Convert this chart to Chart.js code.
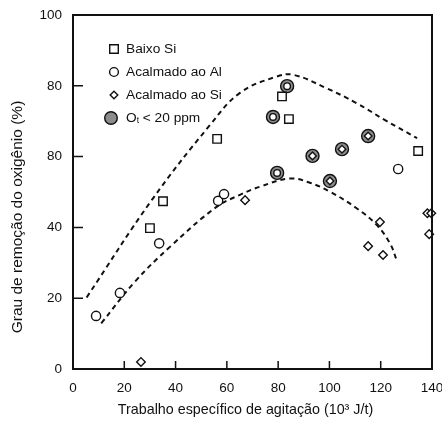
<!DOCTYPE html>
<html>
<head>
<meta charset="utf-8">
<script src="https://cdn.jsdelivr.net/npm/chart.js@4.4.1/dist/chart.umd.min.js"></script>
<style>
  html, body { margin: 0; padding: 0; background: #fff; }
  #wrap { width: 442px; height: 421px; }
</style>
</head>
<body>
<div id="wrap"><canvas id="chart" width="442" height="421"></canvas></div>
<script>
// values: [x (10^3 J/t), y (%)]
const baixoSi = [[30.0, 39.8], [35.1, 47.4], [56.2, 65.0], [81.5, 77.0], [84.2, 70.6], [134.6, 61.6]];
const acalmadoAl = [[9.0, 15.0], [18.3, 21.5], [33.6, 35.5], [56.6, 47.5], [58.9, 49.4], [126.8, 56.5]];
const acalmadoSi = [[26.5, 2.0], [67.1, 47.7], [115.1, 34.7], [119.7, 41.5], [120.9, 32.2],
  [138.2, 44.0], [139.7, 44.0], [138.9, 38.1]];
// heats with O_t < 20 ppm (the inner marker tells Al or Si killed)
const otAl = [[78.0, 71.2], [79.6, 55.4], [83.5, 79.9]];
const otSi = [[93.4, 60.2], [100.2, 53.1], [104.9, 62.1], [115.1, 65.8]];

// dashed trend curves
const upperCurve = [[5.3, 20.2], [30.7, 47.7], [53.4, 68.9], [65.1, 78.0], [79.4, 82.6], [86.0, 83.1],
  [98.9, 79.3], [110.6, 75.1], [121.7, 70.3], [134.2, 65.2]];
const lowerCurve = [[11.0, 12.9], [24.2, 24.7], [37.8, 34.5], [56.0, 45.8], [65.1, 49.2], [72.9, 51.5],
  [84.6, 53.8], [92.4, 52.6], [100.2, 50.1], [110.6, 45.4], [118.4, 40.7], [123.6, 35.5], [126.2, 30.8]];

const xTickLabels = ['0', '20', '40', '60', '80', '100', '120', '140'];
// as printed in the figure (the 60 position reads "80")
const yTickLabels = ['0', '20', '40', '80', '80', '100'];
const legendLabels = ['Baixo Si', 'Acalmado ao Al', 'Acalmado ao Si', 'O|t| < 20 ppm'];

const xTitle = 'Trabalho específico de agitação (10³ J/t)';
const yTitle = 'Grau de remoção do oxigênio (%)';

const ink = '#111';
const grey = '#8c8c8c';
const fontFamily = '"Liberation Sans", Arial, sans-serif';

const pts = arr => arr.map(([x, y]) => ({ x, y }));

function marker(ctx, style, x, y, r, fill) {
  ctx.beginPath();
  if (style === 'rect') {
    ctx.rect(x - r, y - r, 2 * r, 2 * r);
  } else if (style === 'diamond') {
    ctx.moveTo(x, y - r); ctx.lineTo(x + r, y); ctx.lineTo(x, y + r); ctx.lineTo(x - r, y); ctx.closePath();
  } else {
    ctx.arc(x, y, r, 0, Math.PI * 2);
  }
  ctx.fillStyle = fill;
  ctx.fill();
  ctx.stroke();
}

const framePlugin = {
  id: 'frame',
  afterDatasetsDraw(chart) {
    const { ctx, chartArea: a, scales: { x, y } } = chart;
    ctx.save();
    ctx.strokeStyle = ink;
    ctx.lineWidth = 2;
    ctx.strokeRect(a.left, a.top, a.right - a.left, a.bottom - a.top);
    ctx.lineWidth = 1.5;
    ctx.beginPath();
    x.ticks.forEach(t => {
      if (t.value <= x.min || t.value >= x.max) return;
      const px = x.getPixelForValue(t.value);
      ctx.moveTo(px, a.bottom);
      ctx.lineTo(px, a.bottom - 8);
    });
    y.ticks.forEach(t => {
      if (t.value <= y.min || t.value >= y.max) return;
      const py = y.getPixelForValue(t.value);
      ctx.moveTo(a.left, py);
      ctx.lineTo(a.left + 10, py);
    });
    ctx.stroke();
    ctx.restore();
  },
  afterDraw(chart) {
    const { ctx, chartArea: a } = chart;
    ctx.save();
    ctx.fillStyle = ink;
    ctx.textAlign = 'center';
    ctx.textBaseline = 'middle';
    ctx.font = '14.3px ' + fontFamily;
    ctx.fillText(xTitle, (a.left + a.right) / 2 - 7, a.bottom + 41);
    ctx.translate(18, (a.top + a.bottom) / 2 + 25);
    ctx.rotate(-Math.PI / 2);
    ctx.font = '15.5px ' + fontFamily;
    ctx.fillText(yTitle, 0, 0);
    ctx.restore();

    // legend, inside the plot at top left
    const styles = [
      { shape: 'rect', r: 4.3, fill: '#fff' },
      { shape: 'circle', r: 4.4, fill: '#fff' },
      { shape: 'diamond', r: 3.8, fill: '#fff' },
      { shape: 'circle', r: 6.3, fill: grey }
    ];
    ctx.save();
    ctx.strokeStyle = ink;
    ctx.lineWidth = 1.4;
    ctx.textAlign = 'left';
    ctx.textBaseline = 'middle';
    legendLabels.forEach((label, i) => {
      const cy = a.top + 34 + i * 23;
      const s = styles[i];
      marker(ctx, s.shape, a.left + (s.r > 5 ? 38 : 41), cy, s.r, s.fill);
      ctx.fillStyle = ink;
      let tx = a.left + 53;
      label.split('|').forEach((p, j) => {
        if (j === 1) {
          ctx.font = '8.5px ' + fontFamily;
          ctx.fillText(p, tx, cy + 3);
        } else {
          ctx.font = '13.7px ' + fontFamily;
          ctx.fillText(p, tx, cy);
        }
        tx += ctx.measureText(p).width;
      });
    });
    ctx.restore();
  }
};

const curve = data => ({
  data: pts(data),
  showLine: true,
  borderColor: ink,
  borderWidth: 2,
  borderDash: [5, 4],
  pointRadius: 0,
  tension: 0.4,
  fill: false,
  order: 10
});

const points = (label, data, style, radius, fill, order) => ({
  label,
  data: pts(data),
  pointStyle: style,
  pointRadius: radius,
  backgroundColor: fill,
  borderColor: ink,
  borderWidth: 1.4,
  clip: false,
  order
});

new Chart(document.getElementById('chart'), {
  type: 'scatter',
  data: {
    datasets: [
      curve(upperCurve),
      curve(lowerCurve),
      points('Oₜ < 20 ppm', [...otAl, ...otSi], 'circle', 6.5, grey, 5),
      points('Baixo Si', baixoSi, 'rect', 6, '#fff', 1),
      points('Acalmado ao Al', acalmadoAl, 'circle', 4.6, '#fff', 1),
      points('Acalmado ao Si', acalmadoSi, 'rectRot', 4.3, '#fff', 1),
      points('Al, Oₜ < 20 ppm', otAl, 'circle', 3.3, '#fff', 1),
      points('Si, Oₜ < 20 ppm', otSi, 'rectRot', 3.8, '#fff', 1)
    ]
  },
  options: {
    responsive: false,
    devicePixelRatio: 1,
    animation: false,
    events: [],
    layout: { padding: { top: 15, right: 10, left: 0, bottom: 0 } },
    plugins: { legend: { display: false }, tooltip: { enabled: false } },
    scales: {
      x: {
        type: 'linear',
        min: 0,
        max: 140,
        afterFit: s => { s.height = 52; s.paddingLeft = 0; s.paddingRight = 0; },
        grid: { display: false, drawTicks: false },
        border: { display: false },
        ticks: {
          stepSize: 20,
          padding: 11,
          maxRotation: 0,
          autoSkip: false,
          color: ink,
          font: { family: fontFamily, size: 13.5 },
          callback: (v, i) => xTickLabels[i]
        }
      },
      y: {
        min: 0,
        max: 100,
        afterFit: s => { s.width = 73; s.paddingTop = 0; s.paddingBottom = 0; },
        grid: { display: false, drawTicks: false },
        border: { display: false },
        ticks: {
          stepSize: 20,
          padding: 11,
          color: ink,
          font: { family: fontFamily, size: 13.5 },
          callback: (v, i) => yTickLabels[i]
        }
      }
    }
  },
  plugins: [framePlugin]
});
</script>
</body>
</html>
